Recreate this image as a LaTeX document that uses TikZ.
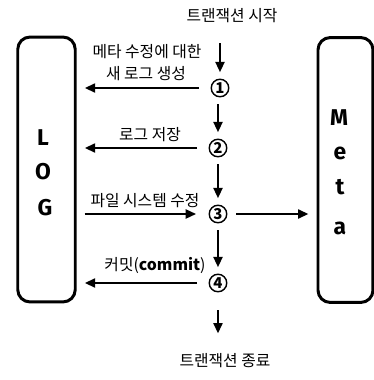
\documentclass[tikz,border=0pt]{standalone}
\usepackage{fontspec}
\setmainfont{Noto Sans CJK KR}
\newfontfamily\letterfont{Fira Sans}
\usetikzlibrary{arrows.meta}

\begin{document}
\begin{tikzpicture}[x=0.02cm,y=-0.02cm,
    font=\fontsize{9}{10.5}\selectfont,
    box/.style={draw,line width=1.7pt,rounded corners=7pt,minimum width=1.15cm,minimum height=5.3cm},
    stepnum/.style={circle,draw,line width=0.8pt,inner sep=0pt,minimum size=0.35cm,font=\fontsize{8.5}{9}\selectfont\bfseries},
    letter/.style={font=\fontsize{13}{15}\selectfont\letterfont\bfseries},
    arr/.style={-{Triangle[length=6pt,width=5pt]},line width=1.5pt},
    down/.style={arr,shorten <=4pt,shorten >=3.5pt},
    side/.style={arr,shorten <=6.5pt,shorten >=4.5pt}]
    \useasboundingbox (0,0) rectangle (374,380);

    % the two stores
    \node[box] (log) at (46.5,169.5) {};
    \node[box,minimum width=1.1cm] (meta) at (345.5,170) {};
    \node[letter] (logL) at (43,138) {L};
    \node[letter] (logO) at (43,172) {O};
    \node[letter] (logG) at (45,208) {G};
    \node[letter] (metaM) at (339,118) {M};
    \node[letter] (metaE) at (340,153) {e};
    \node[letter] (metaT) at (340,187) {t};
    \node[letter] (metaA) at (340,228) {a};

    % steps of the transaction
    \node (start) at (232,16) {트랜잭션 시작};
    \node[stepnum] (s1) at (220,88) {1};
    \node[stepnum] (s2) at (218,148) {2};
    \node[stepnum] (s3) at (218,214) {3};
    \node[stepnum] (s4) at (218,283) {4};
    \node (end) at (225,361) {트랜잭션 종료};

    % labels
    \node (lab1a) at (147,52) {메타 수정에 대한};
    \node (lab1b) at (146,74) {새 로그 생성};
    \node (lab2) at (150,135) {로그 저장};
    \node (lab3) at (145,201) {파일 시스템 수정};
    \node (lab4) at (155,265) {커밋(\textbf{commit})};

    % flow
    \draw[down,shorten <=8pt] (start.south -| s1) -- (s1);
    \draw[down] (s1.south -| s2) -- (s2);
    \draw[down] (s2) -- (s3);
    \draw[down] (s3) -- (s4);
    \draw[down,shorten <=10pt,shorten >=8pt] (s4) -- (end.north -| s4);

    % writes to log and meta
    \draw[side] (s1) -- (s1 -| log.east);
    \draw[side] (s2) -- (s2 -| log.east);
    \draw[side,shorten <=4.5pt,shorten >=7pt] (s3 -| log.east) -- (s3);
    \draw[side,shorten <=5pt] (s3) -- (s3 -| meta.west);
    \draw[side] (s4) -- (s4 -| log.east);
\end{tikzpicture}
\end{document}
